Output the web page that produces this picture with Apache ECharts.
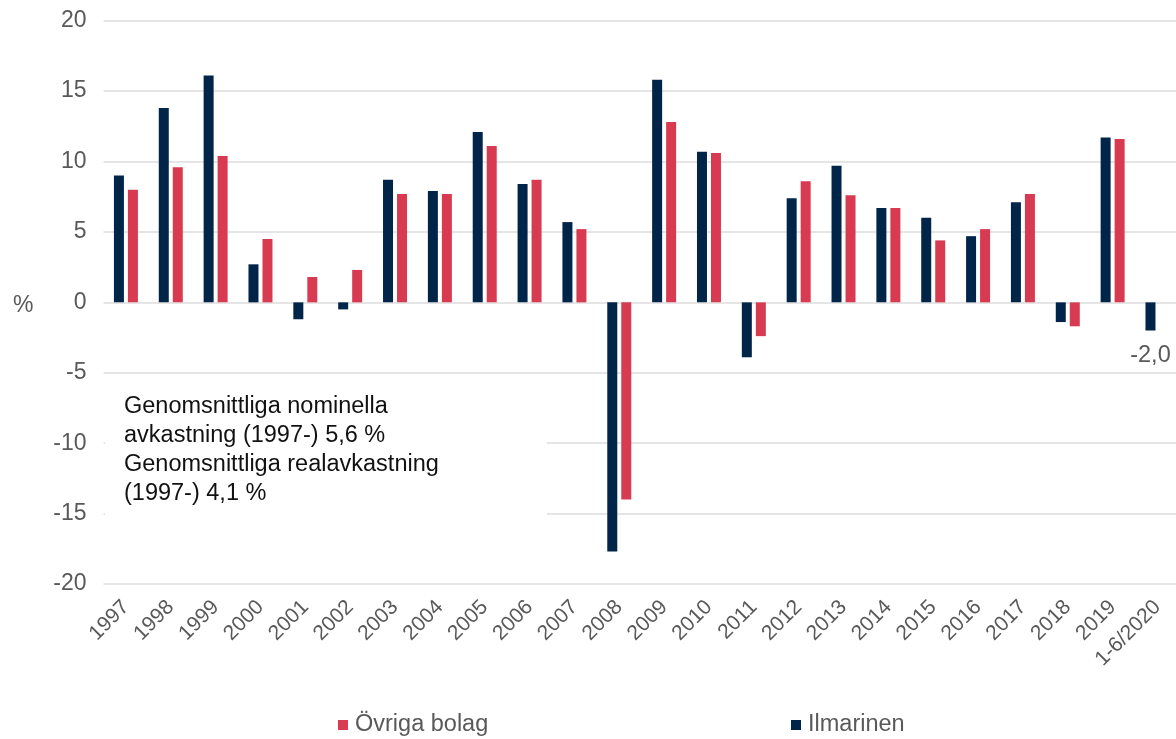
<!DOCTYPE html>
<html>
<head>
<meta charset="utf-8">
<script src="https://cdn.jsdelivr.net/npm/echarts@6/dist/echarts.min.js"></script>
<style>
    html, body {margin: 0; padding: 0; background: #fff;}
    #chart {width: 1176px; height: 739px;}
</style>
</head>
<body>
<div id="chart"></div>
<script>
// kategorier (år)
const years = ['1997', '1998', '1999', '2000', '2001', '2002', '2003', '2004', '2005', '2006', '2007', '2008',
    '2009', '2010', '2011', '2012', '2013', '2014', '2015', '2016', '2017', '2018', '2019', '1-6/2020'];

// avkastning %, Ilmarinen
const ilmarinen = [9.0, 13.8, 16.1, 2.7, -1.2, -0.5, 8.7, 7.9, 12.1, 8.4, 5.7, -17.7,
    15.8, 10.7, -3.9, 7.4, 9.7, 6.7, 6.0, 4.7, 7.1, -1.4, 11.7, -2.0];

// avkastning %, övriga bolag (ingen siffra för 1-6/2020)
const ovriga = [8.0, 9.6, 10.4, 4.5, 1.8, 2.3, 7.7, 7.7, 11.1, 8.7, 5.2, -14.0,
    12.8, 10.6, -2.4, 8.6, 7.6, 6.7, 4.4, 5.2, 7.7, -1.7, 11.6, null];

const yTicks = {min: -20, max: 20, step: 5};

const noteLines = [
    'Genomsnittliga nominella',
    'avkastning (1997-) 5,6 %',
    'Genomsnittliga realavkastning',
    '(1997-) 4,1 %'
];

const font = 'Liberation Sans, Arial, sans-serif';
const gray = '#595959';
const navy = '#002549';
const red = '#d83a51';

const chart = echarts.init(document.getElementById('chart'));

const legendStyle = {
    top: 708, icon: 'rect',
    itemWidth: 10, itemHeight: 10, itemGap: 7,
    textStyle: {color: gray, fontSize: 23.5, fontFamily: font, padding: [0, 0, 0, 2]}
};

const option = {
    animation: false,
    grid: {left: 103.5, width: 1076.4, top: 20.7, bottom: 155, outerBoundsMode: 'none', containLabel: false},
    legend: [
        Object.assign({data: ['Övriga bolag'], left: 333}, legendStyle),
        Object.assign({data: ['Ilmarinen'], left: 786}, legendStyle)
    ],
    xAxis: {
        type: 'category',
        data: years,
        axisLine: {show: false, onZero: false},
        axisTick: {show: false},
        axisLabel: {
            interval: 0, rotate: 45, margin: 20,
            color: gray, fontSize: 21, fontFamily: font
        }
    },
    yAxis: {
        type: 'value',
        min: yTicks.min, max: yTicks.max, interval: yTicks.step,
        axisLine: {show: false},
        axisTick: {show: false},
        axisLabel: {margin: 17, color: gray, fontSize: 23, fontFamily: font},
        splitLine: {lineStyle: {color: '#dcdcdc', width: 1.5}}
    },
    graphic: [
        {
            type: 'text', left: 13, top: 294, z: 10,
            style: {text: '%', fill: gray, fontSize: 23, fontFamily: font}
        },
        {
            type: 'rect', z: 10, silent: true,
            shape: {x: 105, y: 380, width: 442, height: 145},
            style: {fill: '#fff'}
        },
        {
            type: 'text', left: 124, top: 392, z: 11,
            style: {
                text: noteLines.join('\n'), fill: '#111', fontSize: 23.5,
                lineHeight: 29, fontFamily: font
            }
        }
    ],
    series: [
        {
            name: 'Ilmarinen',
            type: 'bar',
            data: ilmarinen.map((v, i) => i === ilmarinen.length - 1 ? {
                value: v,
                label: {
                    show: true, position: 'bottom', distance: 13,
                    color: gray, fontSize: 23.5, fontFamily: font,
                    formatter: p => p.value.toFixed(1).replace('.', ',')
                }
            } : v),
            barWidth: 10,
            barGap: '40%',
            itemStyle: {color: navy}
        },
        {
            name: 'Övriga bolag',
            type: 'bar',
            data: ovriga,
            barWidth: 10,
            itemStyle: {color: red}
        }
    ]
};

chart.setOption(option);
</script>
</body>
</html>
